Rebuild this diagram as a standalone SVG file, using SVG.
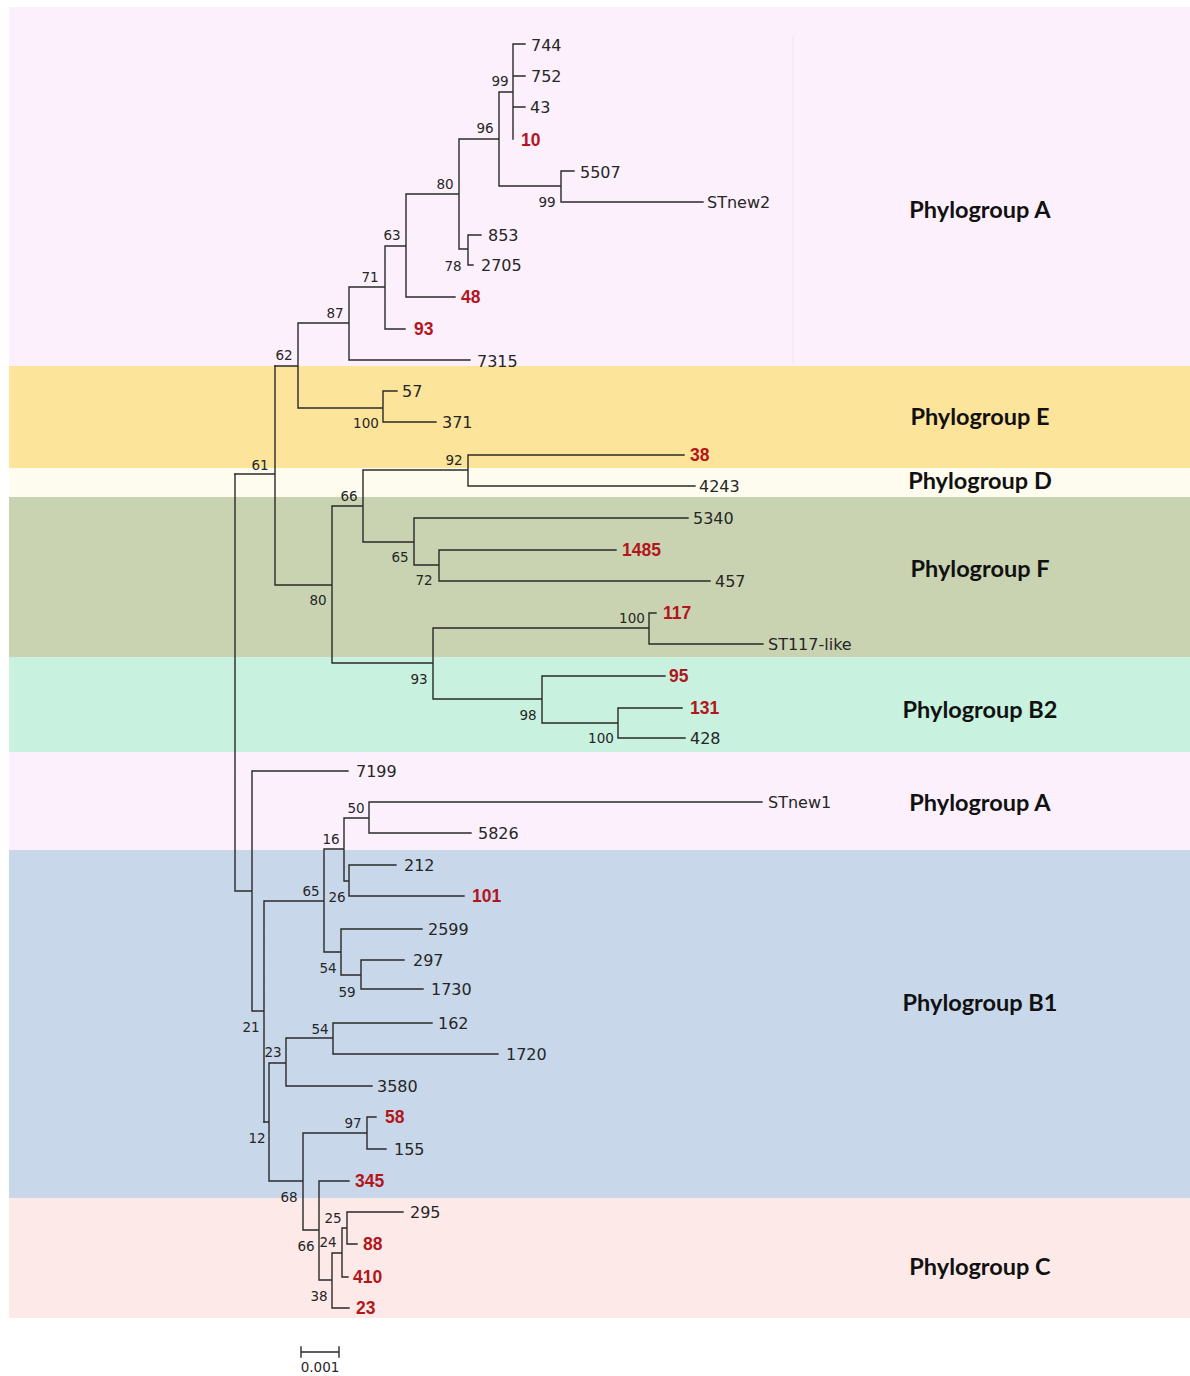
<svg xmlns="http://www.w3.org/2000/svg" width="1190" height="1376" viewBox="0 0 1190 1376">
<style>
.tip{font-family:"DejaVu Sans","Liberation Sans",sans-serif;font-size:16px;fill:#262626}
.red{font-family:"Liberation Sans",Arial,sans-serif;font-size:17.5px;fill:#b2161c;font-weight:bold}
.bs{font-family:"DejaVu Sans","Liberation Sans",sans-serif;font-size:13.5px;fill:#262626;text-anchor:middle}
.grp{font-family:Lato,"Liberation Sans",sans-serif;font-size:23.5px;font-weight:bold;fill:#111;text-anchor:middle}
.br{fill:none;stroke:#2a2a2a;stroke-width:1.4;stroke-linecap:square}
</style>
<rect width="1190" height="1376" fill="#ffffff"/>
<g id="bands">
<rect x="9" y="7" width="1181" height="359" fill="#fcf0fc"/>
<line x1="793" y1="35" x2="793" y2="365" stroke="#f4e6f4" stroke-width="1"/>
<rect x="9" y="366" width="1181" height="102" fill="#fde49b"/>
<rect x="9" y="468" width="1181" height="29" fill="#fefcee"/>
<rect x="9" y="497" width="1181" height="160" fill="#c9d3b2"/>
<rect x="9" y="657" width="1181" height="95" fill="#c8f1df"/>
<rect x="9" y="752" width="1181" height="98" fill="#fcf0fc"/>
<rect x="9" y="850" width="1181" height="348" fill="#c8d8ea"/>
<rect x="9" y="1198" width="1181" height="120" fill="#fdeae8"/>
</g>
<g id="group-labels">
<text class="grp" x="980" y="218">Phylogroup A</text>
<text class="grp" x="980" y="425">Phylogroup E</text>
<text class="grp" x="980" y="489">Phylogroup D</text>
<text class="grp" x="980" y="577">Phylogroup F</text>
<text class="grp" x="980" y="718">Phylogroup B2</text>
<text class="grp" x="980" y="811">Phylogroup A</text>
<text class="grp" x="980" y="1011">Phylogroup B1</text>
<text class="grp" x="980" y="1275">Phylogroup C</text>
</g>
<g id="connectors" class="br">
<path d="M513,44 V139 M513,44 H525 M513,76 H525 M513,107 H525 M499,92 H513 M499,92 V186 M499,186 H561 M561,171 V202 M561,171 H574 M561,202 H703 M459,139 H499 M459,139 V249 M459,249 H468 M468,235 V265 M468,235 H481 M468,265 H473 M406,194 H459 M406,194 V297 M406,297 H455 M385,246 H406 M385,246 V329 M385,329 H405 M349,287 H385 M349,287 V360 M349,360 H470 M298,323 H349 M298,323 V408 M298,408 H383 M383,391 V422 M383,391 H397 M383,422 H436 M275,366 H298"/>
<path d="M275,366 V585 M275,585 H332 M235,474 H275 M332,506 V663 M332,506 H363 M363,470 V542 M363,470 H468 M468,455 V486 M468,455 H684 M468,486 H695 M363,542 H414 M414,518 V565 M414,518 H688 M414,565 H439 M439,550 V581 M439,550 H616 M439,581 H710 M332,663 H433 M433,628 V699 M433,628 H649 M649,613 V644 M649,613 H656 M649,644 H763 M433,699 H542 M542,676 V723 M542,676 H665 M542,723 H618 M618,708 V738 M618,708 H682 M618,738 H685"/>
<path d="M235,474 V891 M235,891 H252 M252,771 V1011 M252,771 H348 M252,1011 H264 M264,901 V1122 M264,901 H324 M324,849 V952 M324,849 H344 M344,818 V881 M344,818 H369 M369,802 V833 M369,802 H762 M369,833 H471 M344,881 H349 M349,865 V896 M349,865 H396 M349,896 H464 M324,952 H341 M341,929 V975 M341,929 H422 M341,975 H361 M361,960 V989 M361,960 H404 M361,989 H423"/>
<path d="M264,1122 H269 M269,1063 V1181 M269,1063 H286 M286,1038 V1086 M286,1038 H333 M333,1023 V1054 M333,1023 H432 M333,1054 H498 M286,1086 H372 M269,1181 H303 M303,1133 V1230 M303,1133 H367 M367,1117 V1149 M367,1117 H376 M367,1149 H386 M303,1230 H319 M319,1181 V1280 M319,1181 H349 M319,1280 H332 M332,1253 V1308 M332,1253 H342 M332,1308 H349 M342,1228 V1277 M342,1228 H347 M342,1277 H348 M347,1212 V1244 M347,1212 H403 M347,1244 H357"/>
</g>
<g id="tips">
<g id="tip-744"><text class="tip" x="531" y="51">744</text></g>
<g id="tip-752"><text class="tip" x="531" y="82">752</text></g>
<g id="tip-43"><text class="tip" x="530" y="113">43</text></g>
<g id="tip-10"><text class="red" x="521" y="146">10</text></g>
<g id="tip-5507"><text class="tip" x="580" y="178">5507</text></g>
<g id="tip-STnew2"><text class="tip" x="707" y="208">STnew2</text></g>
<g id="tip-853"><text class="tip" x="488" y="241">853</text></g>
<g id="tip-2705"><text class="tip" x="481" y="271">2705</text></g>
<g id="tip-48"><text class="red" x="461" y="303">48</text></g>
<g id="tip-93"><text class="red" x="414" y="335">93</text></g>
<g id="tip-7315"><text class="tip" x="477" y="367">7315</text></g>
<g id="tip-57"><text class="tip" x="402" y="397">57</text></g>
<g id="tip-371"><text class="tip" x="442" y="428">371</text></g>
<g id="tip-38"><text class="red" x="690" y="461">38</text></g>
<g id="tip-4243"><text class="tip" x="699" y="492">4243</text></g>
<g id="tip-5340"><text class="tip" x="693" y="524">5340</text></g>
<g id="tip-1485"><text class="red" x="622" y="556">1485</text></g>
<g id="tip-457"><text class="tip" x="715" y="587">457</text></g>
<g id="tip-117"><text class="red" x="663" y="619">117</text></g>
<g id="tip-ST117-like"><text class="tip" x="768" y="650">ST117-like</text></g>
<g id="tip-95"><text class="red" x="669" y="682">95</text></g>
<g id="tip-131"><text class="red" x="690" y="714">131</text></g>
<g id="tip-428"><text class="tip" x="690" y="744">428</text></g>
<g id="tip-7199"><text class="tip" x="356" y="777">7199</text></g>
<g id="tip-STnew1"><text class="tip" x="768" y="808">STnew1</text></g>
<g id="tip-5826"><text class="tip" x="478" y="839">5826</text></g>
<g id="tip-212"><text class="tip" x="404" y="871">212</text></g>
<g id="tip-101"><text class="red" x="472" y="902">101</text></g>
<g id="tip-2599"><text class="tip" x="428" y="935">2599</text></g>
<g id="tip-297"><text class="tip" x="413" y="966">297</text></g>
<g id="tip-1730"><text class="tip" x="431" y="995">1730</text></g>
<g id="tip-162"><text class="tip" x="438" y="1029">162</text></g>
<g id="tip-1720"><text class="tip" x="506" y="1060">1720</text></g>
<g id="tip-3580"><text class="tip" x="377" y="1092">3580</text></g>
<g id="tip-58"><text class="red" x="385" y="1123">58</text></g>
<g id="tip-155"><text class="tip" x="394" y="1155">155</text></g>
<g id="tip-345"><text class="red" x="355" y="1187">345</text></g>
<g id="tip-295"><text class="tip" x="410" y="1218">295</text></g>
<g id="tip-88"><text class="red" x="363" y="1250">88</text></g>
<g id="tip-410"><text class="red" x="353" y="1283">410</text></g>
<g id="tip-23"><text class="red" x="356" y="1314">23</text></g>
</g>
<g id="bootstrap">
<text class="bs" x="500" y="86">99</text>
<text class="bs" x="485" y="133">96</text>
<text class="bs" x="547" y="207">99</text>
<text class="bs" x="445" y="189">80</text>
<text class="bs" x="453" y="271">78</text>
<text class="bs" x="392" y="240">63</text>
<text class="bs" x="370" y="282">71</text>
<text class="bs" x="335" y="318">87</text>
<text class="bs" x="284" y="360">62</text>
<text class="bs" x="366" y="428">100</text>
<text class="bs" x="260" y="470">61</text>
<text class="bs" x="454" y="465">92</text>
<text class="bs" x="349" y="501">66</text>
<text class="bs" x="400" y="562">65</text>
<text class="bs" x="424" y="585">72</text>
<text class="bs" x="318" y="605">80</text>
<text class="bs" x="632" y="623">100</text>
<text class="bs" x="419" y="684">93</text>
<text class="bs" x="528" y="720">98</text>
<text class="bs" x="601" y="743">100</text>
<text class="bs" x="356" y="813">50</text>
<text class="bs" x="331" y="844">16</text>
<text class="bs" x="311" y="896">65</text>
<text class="bs" x="337" y="902">26</text>
<text class="bs" x="328" y="973">54</text>
<text class="bs" x="347" y="997">59</text>
<text class="bs" x="251" y="1032">21</text>
<text class="bs" x="320" y="1034">54</text>
<text class="bs" x="273" y="1057">23</text>
<text class="bs" x="257" y="1143">12</text>
<text class="bs" x="353" y="1128">97</text>
<text class="bs" x="289" y="1202">68</text>
<text class="bs" x="333" y="1223">25</text>
<text class="bs" x="306" y="1251">66</text>
<text class="bs" x="328" y="1247">24</text>
<text class="bs" x="319" y="1301">38</text>
</g>
<g id="scale-bar">
<path class="br" d="M301,1352 H339 M301,1347 V1357 M339,1347 V1357"/>
<text class="bs" x="320" y="1372">0.001</text>
</g>
</svg>
